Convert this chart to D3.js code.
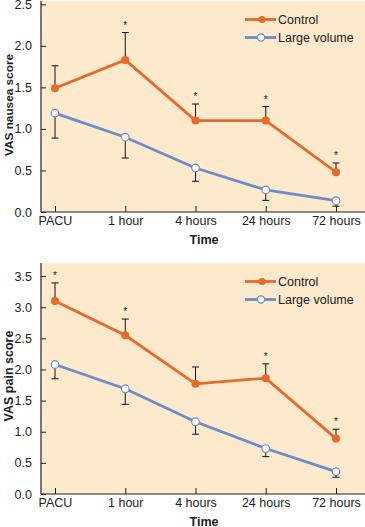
<!DOCTYPE html>
<html><head><meta charset="utf-8">
<script src="https://cdn.jsdelivr.net/npm/d3@7"></script>
<style>body{margin:0;background:#fff}svg{display:block}text{font-family:"Liberation Sans",Arial,sans-serif}</style>
</head><body>
<script>
const categories = ["PACU","1 hour","4 hours","24 hours","72 hours"];
const nauseaControl = [1.49,1.83,1.10,1.10,0.48];
const nauseaControlUpper = [1.76,2.16,1.30,1.27,0.59];
const nauseaLarge = [1.19,0.90,0.53,0.265,0.136];
const nauseaLargeLower = [0.89,0.65,0.37,0.14,0.07];
const nauseaStars = [false,true,true,true,true];
const nauseaTicks = [0,0.5,1.0,1.5,2.0,2.5];

const painControl = [3.10,2.55,1.77,1.86,0.89];
const painControlUpper = [3.39,2.81,2.04,2.09,1.04];
const painLarge = [2.08,1.69,1.16,0.73,0.36];
const painLargeLower = [1.85,1.44,0.96,0.60,0.27];
const painStars = [true,true,false,true,true];
const painTicks = [0,0.5,1.0,1.5,2.0,2.5,3.0,3.5];

const W=365,H=527;
const ORANGE="#E8692A", BLUE="#6E8DC8", BG="#FDE9CC";
const svg=d3.select("body").append("svg").attr("width",W).attr("height",H);

function panel(cfg){
  const g=svg.append("g");
  const left=41,right=W;
  const x=d3.scalePoint().domain(categories).range([55,336]);
  const y=d3.scaleLinear().domain([0,cfg.ymax]).range([cfg.bottom,cfg.top]);
  g.append("rect").attr("x",left).attr("y",cfg.top).attr("width",right-left).attr("height",cfg.bottom-cfg.top).attr("fill",BG);
  const ya=d3.axisLeft(y).tickValues(cfg.ticks).tickFormat(d3.format(".1f")).tickSize(-5).tickPadding(9);
  const yg=g.append("g").attr("transform",`translate(${left},0)`).call(ya);
  yg.select(".domain").remove();
  yg.selectAll("text").attr("font-size",12.5).attr("fill","#222");
  yg.selectAll("line").attr("stroke","#222");
  const xa=d3.axisBottom(x).tickSize(-6).tickPadding(4);
  const xg=g.append("g").attr("transform",`translate(0,${cfg.bottom})`).call(xa);
  xg.select(".domain").remove();
  xg.selectAll("text").attr("font-size",12.5).attr("fill","#222");
  xg.selectAll("line").attr("stroke","#222");
  g.append("line").attr("x1",left).attr("x2",left).attr("y1",cfg.top).attr("y2",cfg.bottom).attr("stroke","#222").attr("stroke-width",1.2);
  g.append("line").attr("x1",left).attr("x2",right).attr("y1",cfg.bottom).attr("y2",cfg.bottom).attr("stroke","#222").attr("stroke-width",1.2);
  const eb=(vals,ends)=>{categories.forEach((c,i)=>{
    g.append("line").attr("x1",x(c)).attr("x2",x(c)).attr("y1",y(vals[i])).attr("y2",y(ends[i])).attr("stroke","#111").attr("stroke-width",1);
    g.append("line").attr("x1",x(c)-3.5).attr("x2",x(c)+3.5).attr("y1",y(ends[i])).attr("y2",y(ends[i])).attr("stroke","#111").attr("stroke-width",1);
  });};
  eb(cfg.control,cfg.controlUpper);
  eb(cfg.large,cfg.largeLower);
  categories.forEach((c,i)=>{ if(cfg.stars[i]) g.append("text").attr("x",x(c)).attr("y",y(cfg.controlUpper[i])-4).attr("text-anchor","middle").attr("font-size",10).attr("fill","#222").text("*");});
  const line=d3.line().x((d,i)=>x(categories[i])).y(d=>y(d));
  g.append("path").datum(cfg.control).attr("d",line).attr("fill","none").attr("stroke",ORANGE).attr("stroke-width",2.8);
  g.append("path").datum(cfg.large).attr("d",line).attr("fill","none").attr("stroke",BLUE).attr("stroke-width",2.8);
  g.selectAll(null).data(cfg.control).join("circle").attr("cx",(d,i)=>x(categories[i])).attr("cy",d=>y(d)).attr("r",4).attr("fill",ORANGE);
  g.selectAll(null).data(cfg.large).join("circle").attr("cx",(d,i)=>x(categories[i])).attr("cy",d=>y(d)).attr("r",3.8).attr("fill","#fff").attr("stroke",BLUE).attr("stroke-width",1.2);
  const ly1=cfg.top+18.5, ly2=cfg.top+36.5;
  g.append("line").attr("x1",245).attr("x2",276).attr("y1",ly1).attr("y2",ly1).attr("stroke",ORANGE).attr("stroke-width",2.8);
  g.append("circle").attr("cx",262).attr("cy",ly1).attr("r",3.6).attr("fill",ORANGE);
  g.append("text").attr("x",278).attr("y",ly1).attr("dy","0.35em").attr("font-size",12.5).attr("fill","#222").text("Control");
  g.append("line").attr("x1",245).attr("x2",276).attr("y1",ly2).attr("y2",ly2).attr("stroke",BLUE).attr("stroke-width",2.8);
  g.append("circle").attr("cx",261).attr("cy",ly2).attr("r",3.6).attr("fill","#fff").attr("stroke",BLUE).attr("stroke-width",1.2);
  g.append("text").attr("x",278).attr("y",ly2).attr("dy","0.35em").attr("font-size",12.5).attr("fill","#222").text("Large volume");
  g.append("text").attr("transform",`translate(8.5,${cfg.ylabelY}) rotate(-90)`).attr("text-anchor","middle").attr("dy","0.35em").attr("font-size",cfg.ylabelSize).attr("font-weight","bold").attr("fill","#222").text(cfg.ylabel);
  g.append("text").attr("x",204).attr("y",cfg.bottom+28).attr("dy","0.35em").attr("text-anchor","middle").attr("font-size",12.5).attr("font-weight","bold").attr("fill","#222").text("Time");
}

panel({top:1,bottom:212,ymax:2.54,ticks:nauseaTicks,control:nauseaControl,controlUpper:nauseaControlUpper,large:nauseaLarge,largeLower:nauseaLargeLower,stars:nauseaStars,ylabel:"VAS nausea score",ylabelY:105,ylabelSize:11.8});
panel({top:263,bottom:494,ymax:3.71,ticks:painTicks,control:painControl,controlUpper:painControlUpper,large:painLarge,largeLower:painLargeLower,stars:painStars,ylabel:"VAS pain score",ylabelY:376,ylabelSize:12.5});
</script>
</body></html>
